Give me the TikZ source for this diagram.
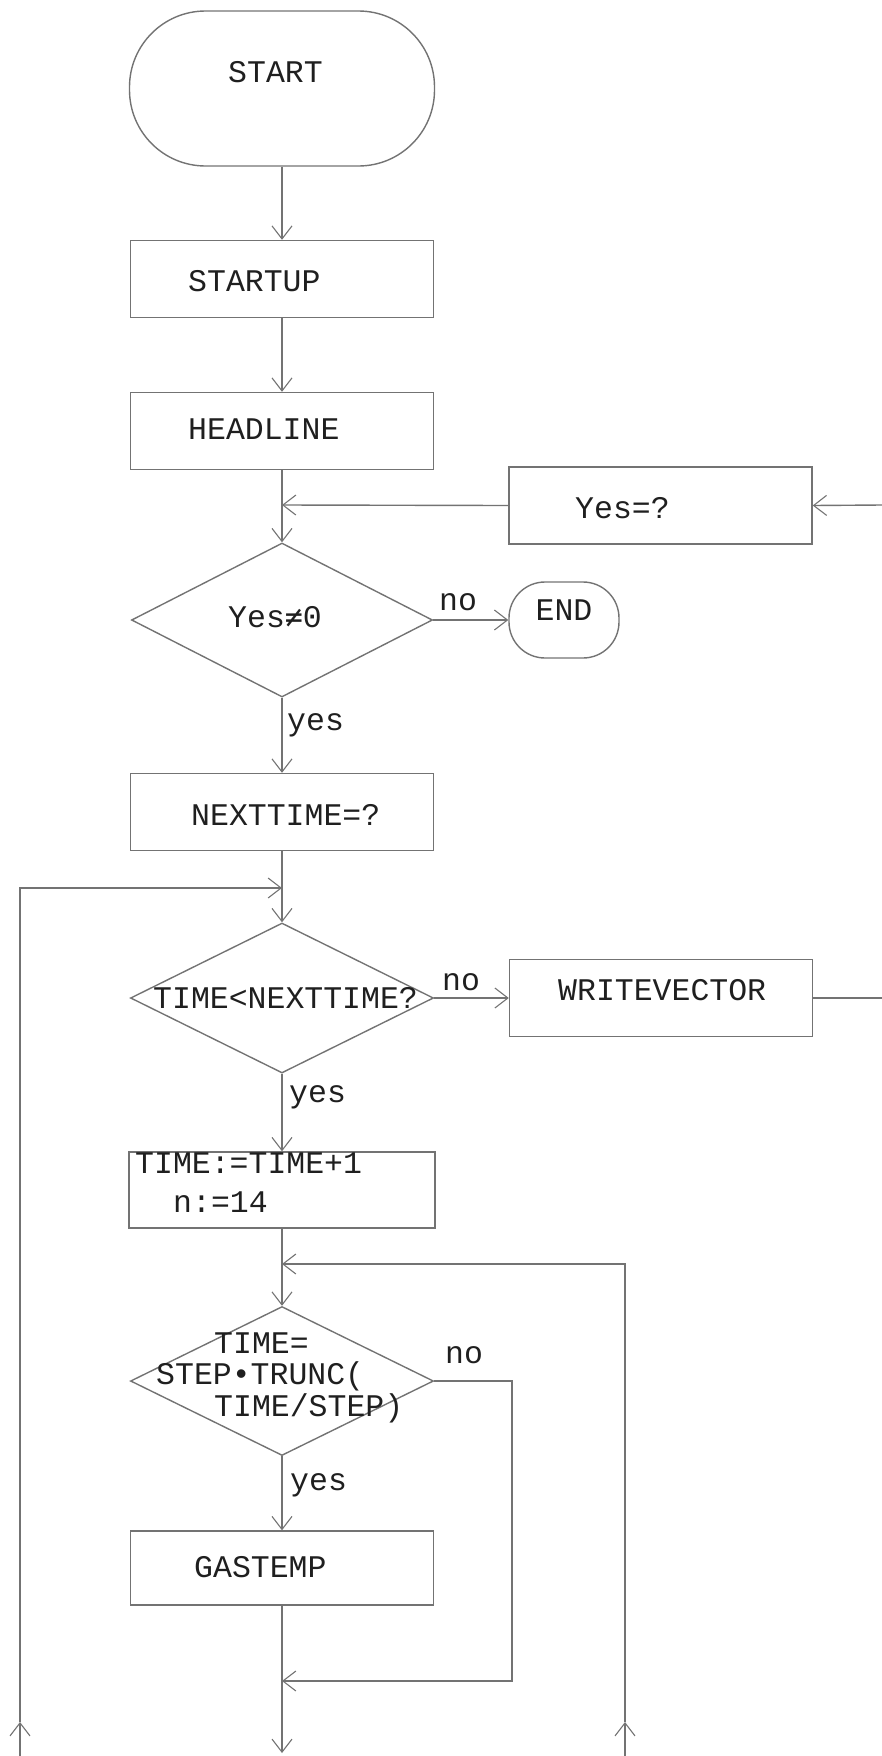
\documentclass[tikz,border=0pt]{standalone}
\usepackage{fontspec}
\setmonofont{Liberation Mono}
\newfontfamily\symmono{DejaVu Sans Mono}
\usetikzlibrary{shapes.geometric,arrows.meta}
\definecolor{linec}{gray}{0.45}
\definecolor{inkc}{gray}{0.12}
\tikzset{
  flow/.style={draw=linec, line width=1.4pt},
  arr/.style={flow, -{Straight Barb[length=13pt,width=20pt,line width=1.1pt]}},
  procbox/.style={flow, rectangle, minimum width=303pt, minimum height=77pt, inner sep=0pt},
  decide/.style={flow, diamond, inner sep=0pt},
  term/.style={flow, rectangle, inner sep=0pt},
  txt/.style={font=\ttfamily\fontsize{31.5}{33}\selectfont, text=inkc, inner sep=0pt, anchor=west},
  lbl/.style={txt, anchor=center},
}
\begin{document}
\begin{tikzpicture}[x=1pt,y=-1pt]
\useasboundingbox (0,0) rectangle (882,1756);

% terminals and process boxes
\node[term, rounded corners=76pt, minimum width=305pt, minimum height=155pt] (start) at (282,88.5) {};
\node[txt] (start-t) at (228,72) {START};

\node[procbox] (startup) at (282,279) {};
\node[txt] (startup-t) at (188,281) {STARTUP};

\node[procbox] (headline) at (282,431) {};
\node[txt] (headline-t) at (188,429) {HEADLINE};

\node[procbox] (yesq) at (660.5,505.5) {};
\node[txt] (yesq-t) at (575,508) {Yes=?};

\node[decide, minimum width=301pt, minimum height=154pt] (d1) at (282,620) {};
\node[txt] (d1-t) at (228,617) {Yes{\symmono\fontsize{30}{33}\selectfont ≠}0};

\node[term, rounded corners=36pt, minimum width=110pt, minimum height=76pt] (end) at (564,620) {};
\node[lbl] (end-t) at (564,610) {END};

\node[procbox] (next) at (282,812) {};
\node[txt] (next-t) at (191,815) {NEXTTIME=?};

\node[decide, minimum width=303pt, minimum height=150pt] (d2) at (282,998) {};
\node[txt] (d2-t) at (153,998) {TIME<NEXTTIME?};

\node[procbox] (wv) at (661,998) {};
\node[txt] (wv-t) at (558,990) {WRITEVECTOR};

\node[procbox, minimum width=306pt, minimum height=76pt] (inc) at (282,1190) {};
\node[txt] (inc-t1) at (135,1163) {TIME:=TIME+1};
\node[txt] (inc-t2) at (173,1202) {n:=14};

\node[decide, minimum width=303pt, minimum height=149pt] (d3) at (282,1381) {};
\node[txt] (d3-t1) at (214,1343) {TIME=};
\node[txt] (d3-t2) at (156,1376) {STEP•TRUNC(};
\node[txt] (d3-t3) at (214,1408) {TIME/STEP)};

\node[procbox, minimum height=74pt] (gas) at (282,1568) {};
\node[txt] (gas-t) at (194,1567) {GASTEMP};

% branch labels
\node[lbl] (no1) at (458,602) {no};
\node[txt] (yes1) at (287,725) {yes};
\node[lbl] (no2) at (461,982) {no};
\node[txt] (yes2) at (289,1097) {yes};
\node[lbl] (no3) at (464,1355) {no};
\node[txt] (yes3) at (290,1485) {yes};

% junction and edge points
\coordinate (j1) at (282,505);
\coordinate (r1) at (882,505);
\coordinate (j2) at (282,888);
\coordinate (lb) at (20,1756);
\coordinate (lm) at (20,1722);
\coordinate (lt) at (20,888);
\coordinate (r2) at (882,998);
\coordinate (j3) at (282,1264);
\coordinate (rb) at (625,1756);
\coordinate (rm) at (625,1722);
\coordinate (rt) at (625,1264);
\coordinate (nr1) at (512,1681);
\coordinate (j4) at (282,1681);
\coordinate (bot) at (282,1753);

% connectors
\draw[arr] (start.south) -- (startup.north);
\draw[arr] (startup.south) -- (headline.north);
\draw[arr] (headline.south) -- (d1.north);
\draw[arr] (r1) -- (yesq.east);
\draw[arr] (yesq.west) -- (j1);
\draw[arr] (d1.east) -- (end.west);
\draw[arr] (d1.south) -- (next.north);
\draw[arr] (next.south) -- (d2.north);
\draw[arr] (lb) -- (lm);
\draw[arr] (lm) -- (lt) -- (j2);
\draw[arr] (d2.east) -- (wv.west);
\draw[flow] (wv.east) -- (r2);
\draw[arr] (d2.south) -- (inc.north);
\draw[arr] (inc.south) -- (d3.north);
\draw[arr] (rb) -- (rm);
\draw[arr] (rm) -- (rt) -- (j3);
\draw[arr] (d3.south) -- (gas.north);
\draw[arr] (d3.east) -| (nr1) -- (j4);
\draw[arr] (gas.south) -- (bot);
\end{tikzpicture}
\end{document}
